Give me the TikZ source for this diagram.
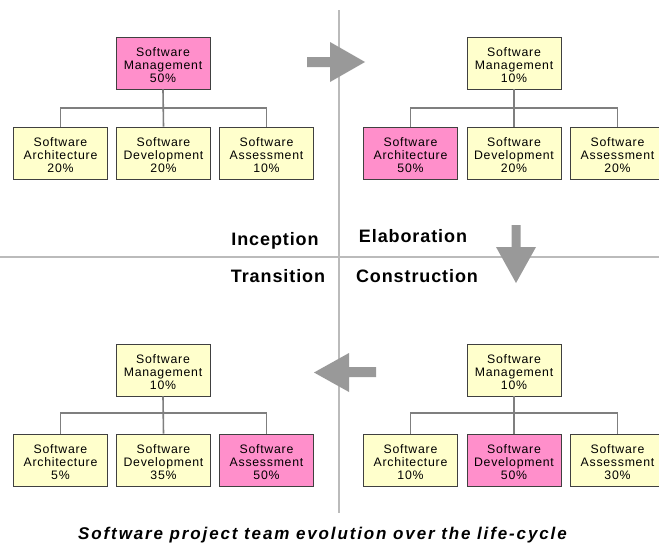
\documentclass[tikz,border=0pt]{standalone}
\usepackage{fontspec}
\usetikzlibrary{calc}
\setmainfont{Liberation Sans}
\newfontfamily\boxfont[LetterSpace=6]{Liberation Sans}
\newfontfamily\lblfont[LetterSpace=5]{Liberation Sans}
\newfontfamily\capfont[LetterSpace=11]{Liberation Sans}
\definecolor{pinkfill}{HTML}{FF8FCB}
\definecolor{yelfill}{HTML}{FFFFCC}
\definecolor{boxline}{HTML}{404040}
\definecolor{connline}{HTML}{7F7F7F}
\definecolor{divline}{HTML}{BBBBBB}
\definecolor{arrowfill}{HTML}{999999}
\newcommand\topstrut{\rule{0pt}{13pt}}
\tikzset{
  role/.style={draw=boxline, line width=0.8pt, fill=yelfill, minimum width=94pt, minimum height=52pt,
    inner sep=0pt, align=center, font=\boxfont\fontsize{12.3}{13.3}\selectfont},
  hot/.style={role, fill=pinkfill},
  conn/.style={draw=connline, line width=1.6pt},
  divider/.style={draw=divline, line width=2.2pt},
  blockarrow/.style={fill=arrowfill, draw=none},
  phase/.style={anchor=base, inner sep=0pt, font=\lblfont\bfseries\fontsize{18}{20}\selectfont},
}
\begin{document}
\begin{tikzpicture}[x=1pt,y=-1pt]
\useasboundingbox (0,0) rectangle (659,554);
\clip (0,0) rectangle (659,554);
\fill[white] (0,0) rectangle (659,554);

% dividers
\draw[divider] (339,10) -- (339,513);
\draw[divider] (0,257) -- (659,257);

% Inception (top-left)
\node[hot]  (im) at (163,63) {\topstrut Software\\Management\\50\%};
\node[role] (ia) at (60.5,153) {\topstrut Software\\Architecture\\20\%};
\node[role] (id) at (163.5,153) {\topstrut Software\\Development\\20\%};
\node[role] (is) at (266.5,153) {\topstrut Software\\Assessment\\10\%};
\coordinate (ib) at ($(im.south)!0.5!(id.north)$);
\draw[conn] (im.south) -- (ib);
\draw[conn] (ia.north) |- (ib) -| (is.north);
\draw[conn] (ib) -- (id.north);

% Elaboration (top-right)
\node[role] (em) at (514,63) {\topstrut Software\\Management\\10\%};
\node[hot]  (ea) at (410.5,153) {\topstrut Software\\Architecture\\50\%};
\node[role] (ed) at (514,153) {\topstrut Software\\Development\\20\%};
\node[role] (es) at (617.5,153) {\topstrut Software\\Assessment\\20\%};
\coordinate (eb) at ($(em.south)!0.5!(ed.north)$);
\draw[conn] (em.south) -- (eb);
\draw[conn] (ea.north) |- (eb) -| (es.north);
\draw[conn] (eb) -- (ed.north);

% Transition (bottom-left)
\node[role] (tm) at (163,370) {\topstrut Software\\Management\\10\%};
\node[role] (ta) at (60.5,460) {\topstrut Software\\Architecture\\5\%};
\node[role] (td) at (163.5,460) {\topstrut Software\\Development\\35\%};
\node[hot]  (ts) at (266.5,460) {\topstrut Software\\Assessment\\50\%};
\coordinate (tb) at ($(tm.south)!0.45!(td.north)$);
\draw[conn] (tm.south) -- (tb);
\draw[conn] (ta.north) |- (tb) -| (ts.north);
\draw[conn] (tb) -- (td.north);

% Construction (bottom-right)
\node[role] (cm) at (514,370) {\topstrut Software\\Management\\10\%};
\node[role] (ca) at (410.5,460) {\topstrut Software\\Architecture\\10\%};
\node[hot]  (cd) at (514,460) {\topstrut Software\\Development\\50\%};
\node[role] (cs) at (617.5,460) {\topstrut Software\\Assessment\\30\%};
\coordinate (cb) at ($(cm.south)!0.45!(cd.north)$);
\draw[conn] (cm.south) -- (cb);
\draw[conn] (ca.north) |- (cb) -| (cs.north);
\draw[conn] (cb) -- (cd.north);

% phase labels
\node[phase] (lin) at (275,245) {Inception};
\node[phase] (lel) at (413,242) {Elaboration};
\node[phase] (ltr) at (278,282) {Transition};
\node[phase] (lco) at (417,282) {Construction};

% block arrows
\fill[blockarrow] (307,57) -- (330,57) -- (330,42) -- (365,62) -- (330,82) -- (330,67) -- (307,67) -- cycle;
\fill[blockarrow] (511.5,225) -- (520.5,225) -- (520.5,247) -- (536,247) -- (516,283) -- (496,247) -- (511.5,247) -- cycle;
\fill[blockarrow] (376,367) -- (349,367) -- (349,353) -- (314,372.5) -- (349,392) -- (349,377) -- (376,377) -- cycle;

% caption
\node[anchor=base, inner sep=0pt, font=\capfont\bfseries\itshape\fontsize{17}{19}\selectfont] (cap) at (322.5,539)
  {Software project team evolution over the life-cycle};
\end{tikzpicture}
\end{document}
